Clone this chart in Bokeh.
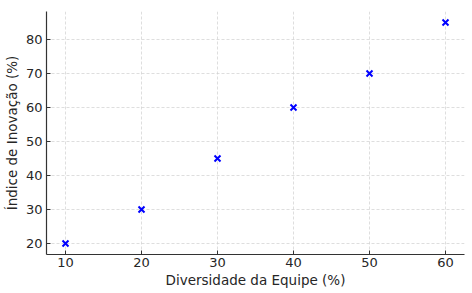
from bokeh.plotting import figure
from bokeh.models import Range1d, FixedTicker
from bokeh.embed import file_html
from bokeh.resources import INLINE

diversidade = [10, 20, 30, 40, 50, 60]
inovacao = [20, 30, 45, 60, 70, 85]
x_ticks = [10, 20, 30, 40, 50, 60]
y_ticks = [20, 30, 40, 50, 60, 70, 80]

p = figure(width=472, height=293, output_backend="svg", toolbar_location=None,
           x_range=Range1d(7.5, 62.5), y_range=Range1d(16.75, 88.25),
           min_border_left=45, min_border_right=8, min_border_top=11, min_border_bottom=39)
p.outline_line_color = None
p.background_fill_color = "white"
p.border_fill_color = "white"

p.scatter(diversidade, inovacao, marker="x", size=8.5, line_width=2, color="#0000ff")

p.xaxis.ticker = FixedTicker(ticks=x_ticks)
p.yaxis.ticker = FixedTicker(ticks=y_ticks)
p.xaxis.axis_label = "Diversidade da Equipe (%)"
p.yaxis.axis_label = "Índice de Inovação (%)"

for ax in (p.xaxis[0], p.yaxis[0]):
    ax.axis_line_color = "#333333"
    ax.axis_line_width = 1.2
    ax.major_tick_in = 4
    ax.major_tick_out = 0
    ax.major_tick_line_color = "#333333"
    ax.minor_tick_line_color = None
    ax.major_label_text_font = "DejaVu Sans"
    ax.major_label_text_font_size = "13px"
    ax.major_label_text_color = "#262626"
    ax.axis_label_text_font = "DejaVu Sans"
    ax.axis_label_text_font_size = "13.5px"
    ax.axis_label_text_font_style = "normal"
    ax.axis_label_text_color = "#262626"

p.xaxis.major_label_standoff = 3
p.xaxis.axis_label_standoff = 2
p.yaxis.major_label_standoff = 4
p.yaxis.axis_label_standoff = 3

p.grid.grid_line_color = "#d0d0d0"
p.grid.grid_line_dash = "3 2"
p.grid.grid_line_width = 0.7

open("out.html", "w").write(file_html(p, INLINE))
